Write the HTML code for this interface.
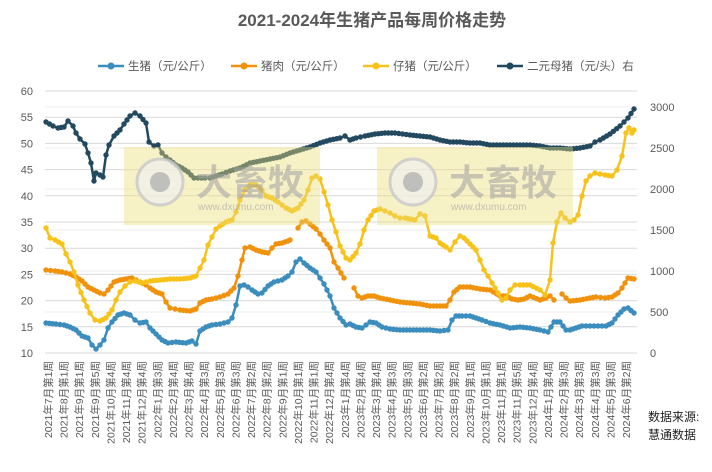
<!DOCTYPE html>
<html><head><meta charset="utf-8"><style>
body{margin:0;background:#fff;}
svg text{font-family:"Liberation Sans","Noto Sans CJK SC",sans-serif;}
</style></head><body>
<svg id="c" width="712" height="467" xmlns="http://www.w3.org/2000/svg">
<rect width="712" height="467" fill="#fff"/>
<text x="372" y="26" text-anchor="middle" font-size="17" font-weight="bold" fill="#595959">2021-2024年生猪产品每周价格走势</text>
<g id="grid"></g>
<g id="series"></g>
<g id="wm"></g>
<g id="axes" font-size="11" fill="#595959"></g>
<g font-size="11.5" fill="#595959">
<line x1="98" y1="66" x2="124" y2="66" stroke="#3a8dbd" stroke-width="2.5"/><circle cx="111" cy="66" r="3.5" fill="#3a8dbd"/>
<text x="128" y="70">生猪（元/公斤）</text>
<line x1="231" y1="66" x2="257" y2="66" stroke="#f0920c" stroke-width="2.5"/><circle cx="244" cy="66" r="3.5" fill="#f0920c"/>
<text x="261" y="70">猪肉（元/公斤）</text>
<line x1="363" y1="66" x2="389" y2="66" stroke="#f7c21a" stroke-width="2.5"/><circle cx="376" cy="66" r="3.5" fill="#f7c21a"/>
<text x="393" y="70">仔猪（元/公斤）</text>
<line x1="497" y1="66" x2="523" y2="66" stroke="#22495f" stroke-width="2.5"/><circle cx="510" cy="66" r="3.5" fill="#22495f"/>
<text x="527" y="70">二元母猪（元/头）右</text>
</g>
<text x="648" y="421" font-size="12" fill="#222">数据来源:</text>
<text x="648" y="439" font-size="12" fill="#222">慧通数据</text>
</svg>
<script>
const NS="http://www.w3.org/2000/svg";
function el(t,a,p){const e=document.createElementNS(NS,t);for(const k in a)e.setAttribute(k,a[k]);if(p)p.appendChild(e);return e;}
const grid=document.getElementById('grid'),ax=document.getElementById('axes');
for(let i=0;i<=6;i++){const y=353-i*41;el('line',{x1:45,x2:637,y1:y,y2:y,stroke:'#ececec','stroke-width':1},grid);}
for(let i=0;i<=10;i++){const y=353-i*26.2;el('line',{x1:45,x2:637,y1:y,y2:y,stroke:'#d9d9d9','stroke-width':1},grid);
 const t=el('text',{x:33,y:y+4,'text-anchor':'end'},ax);t.textContent=10+i*5;if(i%2==1&&false){}}
for(let i=0;i<=6;i++){const y=353-i*41;const t=el('text',{x:650,y:y+4},ax);t.textContent=i*500;}
const labels=["2021年7月第1周","2021年8月第1周","2021年9月第1周","2021年9月第5周","2021年10月第4周","2021年11月第4周","2021年12月第4周"];
for(let m=1;m<=12;m++){labels.push("2022年"+m+"月第"+[3,4,4,3,3,3,2,2,1,1,1,4][m-1]+"周");}
const w23=[4,4,4,3,3,2,2,2,1,1];
for(let m=1;m<=10;m++)labels.push("2023年"+m+"月第"+w23[m-1]+"周");
labels.push("2023年11月第1周","2023年11月第5周","2023年12月第4周");
const w24=[4,3,3,3,3,2];for(let m=1;m<=6;m++)labels.push("2024年"+m+"月第"+w24[m-1]+"周");
labels.forEach((s,i)=>{const x=48+i*(578/(labels.length-1))+4;const t=el('text',{x:x,y:361,'text-anchor':'end',transform:`rotate(-90 ${x} 361)`,'font-size':'10.5'},ax);t.textContent=s;});
const S=document.getElementById('series');
function draw(pts,col){
 const path=pts.map((p,i)=>(i?'L':'M')+p[0]+' '+p[1]).join('');
 el('path',{d:path,fill:'none',stroke:col,'stroke-width':2.5,'stroke-linejoin':'round'},S);
 for(let i=0;i<pts.length-1;i++){const [x1,y1]=pts[i],[x2,y2]=pts[i+1];const n=Math.max(1,Math.round((x2-x1)/3.8));
  for(let k=0;k<n;k++){const f=k/n;el('circle',{cx:x1+(x2-x1)*f,cy:y1+(y2-y1)*f,r:2.7,fill:col},S);}}
 const l=pts[pts.length-1];el('circle',{cx:l[0],cy:l[1],r:2.7,fill:col},S);
}
const dark=[[46,122],[53,126],[58,128],[64,127],[68,121],[73,126],[76,133],[80,139],[85,144],[88,153],[91,163],[94,181],[96,173],[100,175],[103,177],[106,155],[109,145],[114,136],[120,130],[124,124],[130,116],[135,113],[140,116],[146,123],[149,142],[154,146],[158,145],[162,153],[166,157],[170,160],[176,165],[182,168],[188,172],[194,178],[198,178],[205,178],[210,178],[216,176],[222,174],[230,171],[240,168],[250,163],[260,161],[270,159],[280,157],[290,153],[300,150],[310,147],[320,143],[330,140],[340,138],[345,136],[350,140],[356,138],[365,136],[375,134],[385,133],[395,133],[410,135],[420,136],[430,137],[440,140],[450,142],[460,142],[470,143],[480,143],[490,145],[500,145],[510,145],[520,145],[530,145],[540,146],[550,148],[560,148],[570,149],[580,148],[590,146],[595,142],[600,140],[610,134],[620,126],[628,118],[634,109]];
const yel=[[46,228],[50,238],[55,240],[62,244],[66,254],[70,262],[74,272],[78,285],[84,300],[90,313],[95,320],[100,321],[106,318],[112,310],[116,300],[120,292],[125,286],[130,282],[135,281],[142,283],[150,281],[160,280],[170,279],[180,279],[190,278],[196,276],[200,268],[204,260],[208,245],[212,237],[216,229],[220,226],[226,222],[232,220],[236,212],[240,200],[245,190],[250,185],[256,185],[262,190],[266,196],[272,198],[278,202],[286,208],[292,211],[298,208],[304,200],[308,190],[312,178],[316,176],[320,179],[324,192],[328,205],[332,220],[336,232],[340,246],[346,258],[350,260],[356,253],[360,244],[364,230],[368,220],[374,211],[380,209],[385,211],[390,213],[395,216],[400,218],[405,218],[415,220],[420,214],[425,216],[430,236],[436,238],[440,243],[446,247],[450,250],[455,242],[460,236],[464,238],[470,244],[476,250],[480,260],[484,270],[488,276],[492,283],[498,293],[502,300],[506,298],[510,290],[515,285],[520,285],[530,285],[540,290],[545,295],[550,280],[553,243],[557,222],[561,213],[565,218],[570,222],[574,220],[578,215],[582,196],[586,181],[590,176],[595,173],[600,174],[605,175],[612,176],[617,170],[622,156],[626,133],[629,128],[632,133],[634,130]];
const or1=[[46,270],[55,271],[62,272],[70,274],[76,277],[82,281],[88,287],[94,290],[100,293],[104,294],[108,290],[114,282],[120,280],[126,279],[132,278],[140,282],[146,285],[150,288],[156,292],[162,294],[166,302],[170,308],[175,309],[180,310],[190,311],[196,309],[200,303],[206,300],[212,299],[220,297],[228,294],[234,288],[238,276],[242,260],[245,248],[250,247],[256,250],[262,252],[268,253],[272,248],[276,244],[282,243],[288,241],[290,240]];
const or2=[[298,228],[302,222],[306,221],[310,224],[316,229],[320,234],[324,240],[330,248],[334,262],[338,268],[344,278]];
const or3=[[354,288],[358,296],[362,298],[368,296],[374,296],[380,298],[390,300],[400,302],[410,303],[420,304],[430,306],[440,306],[446,306],[450,300],[454,292],[460,287],[470,287],[480,289],[490,290],[500,296],[506,296],[512,299],[518,300],[524,299],[530,296],[540,300],[546,298],[550,296],[554,300]];
const or4=[[562,294],[566,298],[570,301],[580,300],[590,298],[596,297],[605,298],[612,297],[618,293],[622,288],[628,278],[634,279]];
const blu=[[46,323],[56,324],[64,325],[70,327],[76,330],[82,336],[88,338],[92,345],[96,349],[100,345],[104,340],[108,328],[112,322],[118,315],[124,313],[130,315],[135,320],[140,323],[146,322],[150,328],[156,334],[162,340],[168,343],[176,342],[186,343],[192,341],[196,344],[200,331],[206,327],[212,325],[220,324],[228,322],[232,318],[236,305],[240,286],[244,285],[248,287],[252,290],[258,294],[262,293],[268,286],[274,282],[282,280],[288,276],[292,272],[296,262],[300,259],[304,263],[310,268],[316,272],[320,278],[324,284],[330,296],[334,308],[340,318],[346,325],[350,324],[356,327],[362,328],[366,325],[370,322],[376,323],[382,327],[390,329],[400,330],[410,330],[420,330],[430,330],[440,331],[448,330],[452,320],[456,316],[462,316],[470,316],[476,318],[482,320],[490,323],[500,325],[510,328],[520,327],[530,328],[540,330],[548,332],[554,322],[560,322],[566,330],[570,330],[576,328],[582,326],[590,326],[598,326],[606,326],[612,323],[618,315],[624,309],[628,308],[634,313]];
draw(blu,'#3a8dbd');[or1,or2,or3,or4].forEach(s=>draw(s,'#f0920c'));draw(yel,'#f7c21a');draw(dark,'#22495f');
const W=document.getElementById('wm');
[[124,147],[377,147]].forEach(([x,y])=>{
 el('rect',{x:x,y:y,width:196,height:78,fill:'rgba(236,222,120,0.42)'},W);
 el('circle',{cx:x+36,cy:y+35,r:23,fill:'rgba(240,240,240,0.7)',stroke:'rgba(200,200,200,0.8)','stroke-width':3},W);
 el('circle',{cx:x+36,cy:y+35,r:10,fill:'rgba(170,170,170,0.7)'},W);
 const t=el('text',{x:x+72,y:y+48,'font-size':'36','font-weight':'bold',fill:'rgba(160,160,160,0.55)'},W);t.textContent='大畜牧';
 const u=el('text',{x:x+74,y:y+63,'font-size':'10',fill:'rgba(160,160,160,0.6)'},W);u.textContent='www.dxumu.com';
});
</script>
</body></html>
